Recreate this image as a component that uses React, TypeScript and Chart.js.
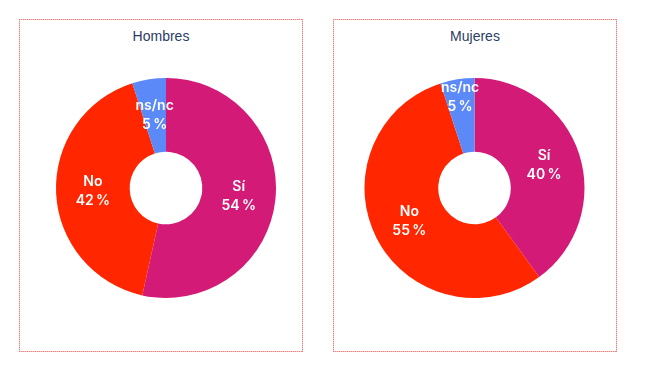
import React, { useEffect, useRef } from "react";
import { Chart, registerables } from "chart.js";

Chart.register(...registerables);

const categories = ["Sí", "No", "ns/nc"];
const hombresValues = [54, 42, 5];
const mujeresValues = [40, 55, 5];
const sliceColors = ["#d31a77", "#ff2600", "#5b8af8"];
// radial position of each label inside its ring (0 = inner edge, 1 = outer edge)
const hombresLabelRadius = [0.5, 0.5, 0.5];
const mujeresLabelRadius = [0.5, 0.5, 0.76];

const labelPlugin = {
  id: "sliceLabels",
  afterDatasetsDraw(chart: any) {
    const ctx = chart.ctx;
    const meta = chart.getDatasetMeta(0);
    const radii: number[] = chart.options.plugins.sliceLabels.radii;
    const data = chart.data.datasets[0].data;
    ctx.save();
    ctx.fillStyle = "#ffffff";
    ctx.textAlign = "center";
    ctx.textBaseline = "middle";
    ctx.font = "600 14px Inter, sans-serif";
    meta.data.forEach((arc: any, i: number) => {
      const p = arc.getProps(["x", "y", "startAngle", "endAngle", "innerRadius", "outerRadius"], true);
      const mid = (p.startAngle + p.endAngle) / 2;
      const r = p.innerRadius + radii[i] * (p.outerRadius - p.innerRadius);
      const x = p.x + Math.cos(mid) * r;
      const y = p.y + Math.sin(mid) * r;
      ctx.fillText(chart.data.labels[i], x, y - 9.5);
      ctx.fillText(data[i] + "\u2009%", x, y + 9.5);
    });
    ctx.restore();
  },
};

const dotH = "repeating-linear-gradient(to right, #f07f7f 0px, #f07f7f 1px, #f9c4c4 1px, #f9c4c4 2px)";
const dotV = "repeating-linear-gradient(to bottom, #f07f7f 0px, #f07f7f 1px, #f9c4c4 1px, #f9c4c4 2px)";

function DonutBox(props: {
  title: string;
  values: number[];
  radii: number[];
  left: number;
  padLeft: number;
  padRight: number;
}) {
  const ref = useRef<HTMLCanvasElement>(null);
  useEffect(() => {
    if (!ref.current) return;
    const chart = new Chart(ref.current, {
      type: "doughnut",
      data: {
        labels: categories,
        datasets: [
          {
            data: props.values,
            backgroundColor: sliceColors,
            borderWidth: 0,
          },
        ],
      },
      options: {
        animation: false,
        responsive: false,
        maintainAspectRatio: false,
        cutout: "33%",
        layout: {
          padding: { top: 58, bottom: 52, left: props.padLeft, right: props.padRight },
        },
        plugins: {
          legend: { display: false },
          tooltip: { enabled: false },
          title: { display: false },
          sliceLabels: { radii: props.radii },
        } as any,
      },
      plugins: [labelPlugin],
    });
    return () => chart.destroy();
  }, []);
  const W = 284;
  const H = 333;
  return (
    <div style={{ position: "absolute", left: props.left, top: 19, width: W, height: H }}>
      <div style={{ position: "absolute", left: 0, top: 0, width: W, height: 1, background: dotH }} />
      <div style={{ position: "absolute", left: 0, top: H - 1, width: W, height: 1, background: dotH }} />
      <div style={{ position: "absolute", left: 0, top: 0, width: 1, height: H, background: dotV }} />
      <div style={{ position: "absolute", left: W - 1, top: 0, width: 1, height: H, background: dotV }} />
      <div
        style={{
          position: "absolute",
          left: 1,
          top: 9,
          width: 282,
          textAlign: "center",
          fontFamily: "'Liberation Sans', Arial, sans-serif",
          fontSize: 14,
          lineHeight: "16px",
          color: "#2b3d63",
        }}
      >
        {props.title}
      </div>
      <canvas
        ref={ref}
        width={282}
        height={330}
        style={{ position: "absolute", left: 1, top: 1, width: 282, height: 330 }}
      />
    </div>
  );
}

export default function App() {
  return (
    <div style={{ position: "absolute", left: 0, top: 0, width: 662, height: 392, background: "#fff" }}>
      <DonutBox title="Hombres" values={hombresValues} radii={hombresLabelRadius} left={19} padLeft={36} padRight={26} />
      <DonutBox title="Mujeres" values={mujeresValues} radii={mujeresLabelRadius} left={333} padLeft={30.5} padRight={31.5} />
    </div>
  );
}
